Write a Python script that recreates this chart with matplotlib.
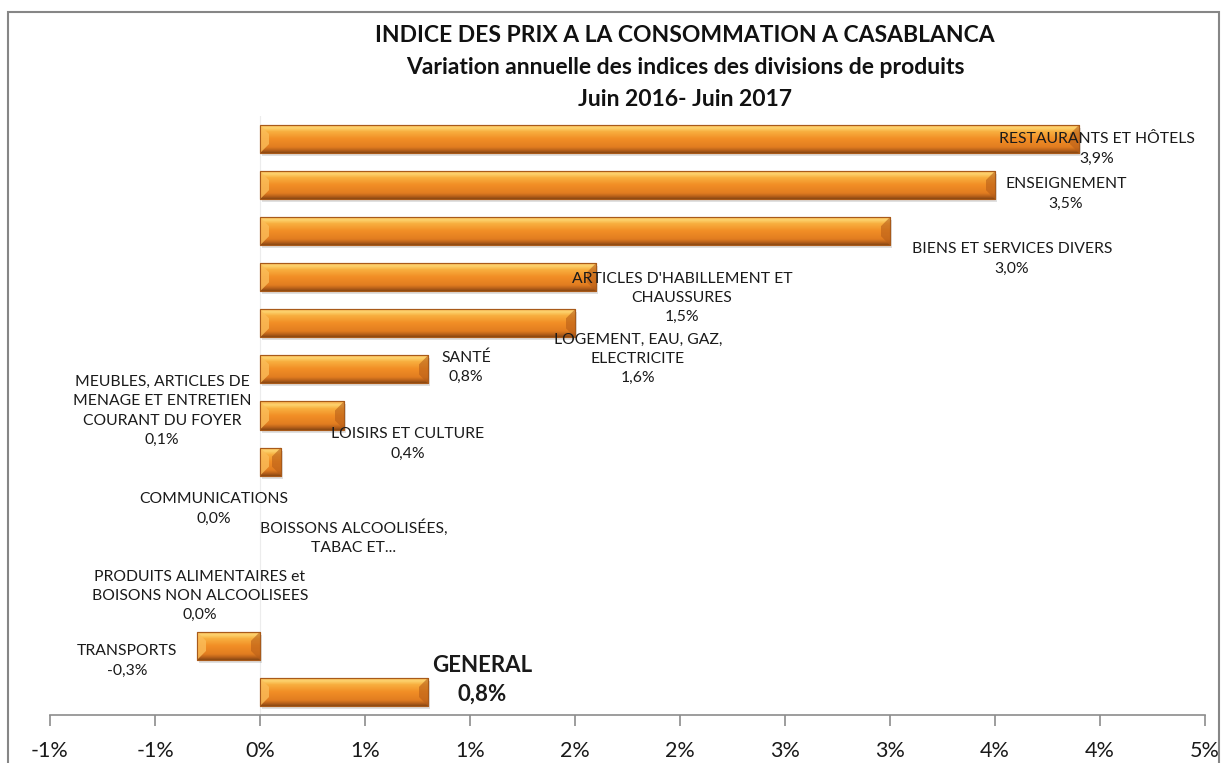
import numpy as np
import matplotlib
matplotlib.use("Agg")
import matplotlib.pyplot as plt
from matplotlib.colors import LinearSegmentedColormap
from matplotlib.patches import Polygon, Rectangle

plt.rcParams['font.family'] = ['Lato', 'DejaVu Sans']

# ---- data ----
categories = ["RESTAURANTS ET HÔTELS", "ENSEIGNEMENT", "BIENS ET SERVICES DIVERS",
              "ARTICLES D'HABILLEMENT ET CHAUSSURES", "LOGEMENT, EAU, GAZ, ELECTRICITE",
              "SANTÉ", "LOISIRS ET CULTURE",
              "MEUBLES, ARTICLES DE MENAGE ET ENTRETIEN COURANT DU FOYER",
              "COMMUNICATIONS", "BOISSONS ALCOOLISÉES, TABAC ET...",
              "PRODUITS ALIMENTAIRES et BOISONS NON ALCOOLISEES", "TRANSPORTS", "GENERAL"]
values = [3.9, 3.5, 3.0, 1.6, 1.5, 0.8, 0.4, 0.1, 0.0, 0.0, 0.0, -0.3, 0.8]

label_texts = ["RESTAURANTS ET HÔTELS\n3,9%", "ENSEIGNEMENT\n3,5%",
               "BIENS ET SERVICES DIVERS\n3,0%",
               "ARTICLES D'HABILLEMENT ET\nCHAUSSURES\n1,5%",
               "LOGEMENT, EAU, GAZ,\nELECTRICITE\n1,6%",
               "SANTÉ\n0,8%", "LOISIRS ET CULTURE\n0,4%",
               "MEUBLES, ARTICLES DE\nMENAGE ET ENTRETIEN\nCOURANT DU FOYER\n0,1%",
               "COMMUNICATIONS\n0,0%", "BOISSONS ALCOOLISÉES,\nTABAC ET...",
               "PRODUITS ALIMENTAIRES et\nBOISONS NON ALCOOLISEES\n0,0%",
               "TRANSPORTS\n-0,3%", "GENERAL\n0,8%"]

tick_values = [-1.0, -0.5, 0.0, 0.5, 1.0, 1.5, 2.0, 2.5, 3.0, 3.5, 4.0, 4.5]
tick_labels = ["-1%", "-1%", "0%", "1%", "1%", "2%", "2%", "3%", "3%", "4%", "4%", "5%"]

title_lines = ["INDICE DES PRIX A LA CONSOMMATION A CASABLANCA",
               "Variation annuelle des indices des divisions de produits",
               "Juin 2016- Juin 2017"]

# label positions (pixel centres in the reference: x centre, block centre y)
label_px = [(1097, 149), (1066, 194), (1012, 259), (682, 298), (638, 359),
            (466, 367), (408, 444), (162, 411), (214, 509), (354, 537),
            (200, 596), (127, 661), (482, 680)]

W, H = 1227, 763
fig = plt.figure(figsize=(W / 100, H / 100), dpi=100)
ax_l, ax_r, ax_t, ax_b = 50, 1205, 116, 715
ax = fig.add_axes([ax_l / W, 1 - ax_b / H, (ax_r - ax_l) / W, (ax_b - ax_t) / H])

n = len(categories)
y = np.arange(n)
bar_h = 0.61
ax.set_xlim(-1.0, 4.5)
ax.set_ylim(n - 0.5, -0.5)

# faint vertical axis
ax.axvline(0, color='#ececec', lw=0.8, zorder=0)

cmap = LinearSegmentedColormap.from_list(
    'bev', [(0.0, '#f5a544'), (0.12, '#fdd470'), (0.25, '#f8b040'),
            (0.5, '#f28f26'), (0.8, '#e27d20'), (0.9, '#bd641b'), (1.0, '#8a4813')])
grad = np.linspace(0, 1, 64).reshape(-1, 1)

px_x = (ax_r - ax_l) / 5.5      # pixels per unit x
px_y = (ax_b - ax_t) / n        # pixels per unit y
bx = 9 / px_x
by = 9 / px_y

lws = [0.0 if v == 0 else 0.8 for v in values]
bars = ax.barh(y, values, height=bar_h, color='#f28f26', edgecolor='#b0601c',
               linewidth=lws, zorder=3)
for rect, v in zip(bars, values):
    if v == 0:
        rect.set_visible(False)
        continue
    x0, w = rect.get_x(), rect.get_width()
    if w < 0:
        x0, w = x0 + w, -w
    y0 = rect.get_y()
    y1 = y0 + rect.get_height()
    x1 = x0 + w
    # shadow
    ax.add_patch(Rectangle((x0 + 2 / px_x, y0 + 3 / px_y), w, y1 - y0,
                           color='#000000', alpha=0.12, lw=0, zorder=2))
    im = ax.imshow(grad, cmap=cmap, extent=(x0, x1, y1, y0), aspect='auto',
                   zorder=4, interpolation='bilinear')
    im.set_clip_path(rect)
    b = min(bx, w / 2)
    ax.add_patch(Polygon([(x0, y0), (x0 + b, y0 + by), (x0 + b, y1 - by), (x0, y1)],
                         closed=True, color='#fbbd5a', alpha=0.8, lw=0, zorder=5))
    ax.add_patch(Polygon([(x1, y0), (x1 - b, y0 + by), (x1 - b, y1 - by), (x1, y1)],
                         closed=True, color='#b85e18', alpha=0.6, lw=0, zorder=5))
    ax.add_patch(Rectangle((x0, y0), w, y1 - y0, fill=False, ec='#a85a1a',
                           lw=0.8, zorder=6))

# labels
for i, (txt, (px, py)) in enumerate(zip(label_texts, label_px)):
    xd = (px - ax_l) / px_x - 1.0
    yd = (py - ax_t) / px_y - 0.5
    if categories[i] == "GENERAL":
        ax.text(xd, yd, txt, ha='center', va='center', fontsize=16,
                fontweight='bold', linespacing=1.45, color='#1a1a1a', zorder=7)
    else:
        ax.text(xd, yd, txt, ha='center', va='center', fontsize=11.3,
                linespacing=1.48, color='#1a1a1a', zorder=7)

# axes styling
for s in ['left', 'right', 'top']:
    ax.spines[s].set_visible(False)
ax.spines['bottom'].set_color('#8c8c8c')
ax.spines['bottom'].set_linewidth(1.2)
ax.set_yticks([])
ax.set_xticks(tick_values)
ax.set_xticklabels(tick_labels, fontsize=15.5, color='#1a1a1a')
ax.tick_params(axis='x', length=8, width=1.2, color='#8c8c8c', pad=11, direction='out')

# title
for k, (line, ty) in enumerate(zip(title_lines, [35, 68, 100])):
    fig.text(685 / W, 1 - ty / H, line, ha='center', va='center', fontsize=16.5,
             fontweight='bold', color='#111111')

# chart border
fig.add_artist(Rectangle((8 / W, -0.05), (1219 - 8) / W, 1 - 12 / H + 0.05,
                         transform=fig.transFigure, fill=False, ec='#868686', lw=1.5))

fig.savefig('out.png', dpi=100)
